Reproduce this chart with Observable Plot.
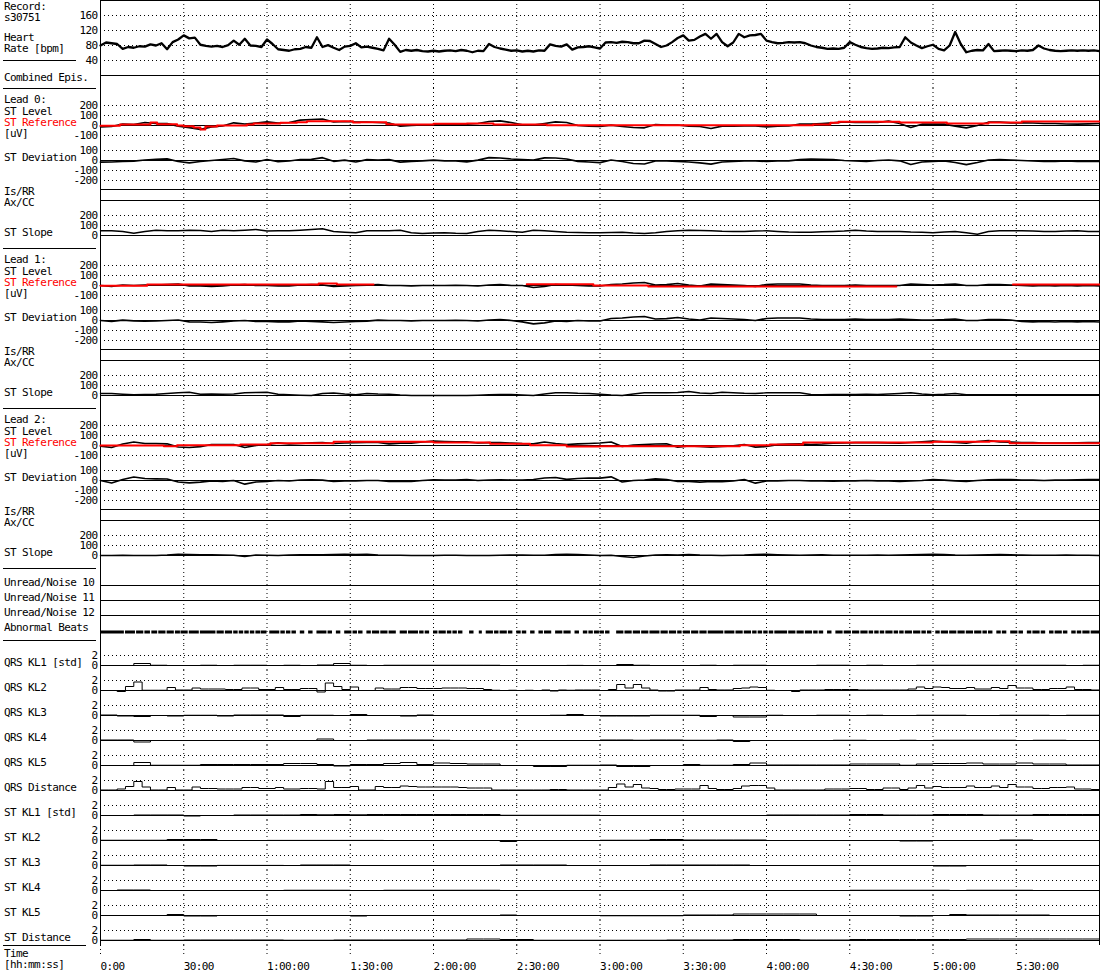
<!DOCTYPE html>
<html>
<head>
<meta charset="utf-8">
<script src="https://cdn.jsdelivr.net/npm/d3@7"></script>
<script src="https://cdn.jsdelivr.net/npm/@observablehq/plot@0.6"></script>
<style>
  body { margin: 0; background: white; }
  #chart { position: relative; width: 1100px; height: 970px; background: white;
           font-family: "DejaVu Sans Mono", monospace; font-size: 11px; letter-spacing: -0.6px; }
  .lbl { position: absolute; left: 4px; height: 11px; line-height: 11px; white-space: pre; }
  .sep { position: absolute; left: 3px; height: 0; border-top: 1px solid black; }
</style>
</head>
<body>
<div id="chart"></div>
<script>
// time axis (minutes from start of record)
const timeTicks = [0, 30, 60, 90, 120, 150, 180, 210, 240, 270, 300, 330];
const timeLabels = ["0:00", "30:00", "1:00:00", "1:30:00", "2:00:00", "2:30:00",
  "3:00:00", "3:30:00", "4:00:00", "4:30:00", "5:00:00", "5:30:00"];

const hrTicks = [160, 120, 80, 40];
const levelTicks = [200, 100, 0, -100];
const devTicks = [100, 0, -100, -200];
const slopeTicks = [200, 100, 0];
const klTicks = [2, 0];

// heart rate, one value every 2 minutes
const heartRate = [
  80, 88, 86, 84, 71, 76, 74, 78, 77, 83,
  80, 86, 70, 89, 96, 107, 99, 101, 82, 79,
  77, 79, 76, 81, 93, 82, 98, 80, 79, 76,
  96, 84, 70, 68, 66, 70, 71, 76, 74, 102,
  76, 81, 74, 68, 77, 79, 86, 75, 77, 74,
  71, 67, 98, 82, 63, 68, 66, 68, 65, 64,
  66, 64, 66, 67, 65, 68, 66, 62, 66, 65,
  84, 76, 72, 69, 66, 67, 64, 66, 64, 67,
  66, 83, 79, 77, 83, 69, 75, 76, 78, 75,
  72, 88, 89, 87, 90, 89, 86, 86, 93, 92,
  84, 76, 80, 89, 100, 107, 93, 95, 104, 111,
  98, 111, 89, 78, 88, 111, 102, 107, 108, 111,
  93, 89, 86, 87, 89, 88, 89, 86, 80, 76,
  74, 71, 72, 71, 74, 89, 82, 76, 73, 71,
  72, 74, 73, 75, 76, 102, 88, 80, 73, 78,
  82, 71, 67, 80, 116, 84, 62, 66, 68, 67,
  84, 65, 66, 67, 66, 65, 67, 66, 68, 80,
  72, 68, 66, 65, 66, 67, 66, 67, 66, 67,
  65];

// ST values [uV], one value every 4 minutes
const lead0Level = [
  -13, -10, 13, 10, 30, 20, 18, -7, -22, -38, -15, -5, 27, 15, 25, 37, 25, 30, 53, 60,
  65, 35, 40, 35, 35, 30, 25, -7, 0, 5, 7, 13, 13, 13, 20, 40, 47, 30, 7, 3,
  20, 37, 30, 0, -7, -8,
  3, -10, -20, -23, 10, 3, 5, -7, -10, -30, -7, -7, -5, -3, -13, -7, -5, 13, 13, 20,
  27, 37, 30, 33, 30, 43, 20, -20, 13, 13, 13, -7, -23, 0, 33, 33, 27, 27, 25, 20,
  20, 15, 13, 17, 20];
const lead0RefTime = [0, 7, 18, 20.4, 27.6, 30, 33.6, 36, 37.8, 42, 52.8, 55.2, 64.8, 70.8, 74.4,
  91, 93.6, 103, 105.6, 120, 132, 141.6, 160.8, 256.8, 263, 266, 288, 305, 320, 332, 360];
const lead0Ref = [-3, 10, 30, 13, 0, -7, -20, -40, -10, 0, 10, 20, 27, 33, 43,
  30, 33, 13, 10, 17, 20, 10, 3, 10, 27, 37, 30, 20, 30, 40, 40];
const lead0Dev = [
  -17, -15, -10, -7, 5, 12, 17, -10, -23, -10, 0, 10, 20, -3, -15, 10, -12, -5, 10, 12,
  28, -8, 3, -15, 8, 3, 8, -17, -8, -3, 3, -3, -5, -13, 3, 28, 25, 15, 8, 3,
  27, 25, 15, -8, -15, -22,
  5, -10, -30, -35, -5, -3, -8, -15, -23, -37, -15, -10, -5, -3, -10, -5, -3, 8, 15, 12,
  10, 0, -5, -10, 0, 5, -3, -40, -15, -8, -3, -20, -42, -20, 5, 10, 5, 0, -5, -10,
  -8, -3, -8, -10, -10];
const lead0Slope = [
  47, 47, 40, 22, 40, 53, 48, 47, 53, 50, 40, 53, 47, 53, 60, 45, 47, 47, 53, 60,
  67, 40, 33, 27, 47, 47, 47, 53, 27, 20, 25, 27, 22, 20, 40, 53, 47, 40, 33, 53,
  47, 40, 33, 30, 27, 27,
  30, 33, 25, 20, 27, 40, 47, 53, 50, 47, 42, 40, 40, 45, 47, 40, 35, 33, 33, 37,
  40, 45, 53, 45, 40, 40, 40, 35, 33, 27, 35, 40, 27, 13, 40, 47, 47, 47, 45, 40,
  40, 45, 47, 40, 40];

const lead1Level = [
  0, -8, 5, 0, 3, 5, 10, 15, -3, -5, -10, -3, 5, 10, 0, 0, -3, -3, 5, 10,
  7, -10, -5, 0, 3, 8, 0, 0, -3, 0, 0, 0, 2, 0, -5, 5, 10, 0, 0, -20,
  -10, 10, 5, 0, -5, -5,
  10, 15, 25, 30, 5, 8, 20, 5, -5, 15, 10, 5, 0, -10, 10, 15, 15, 15, 5, 0,
  0, 0, 3, 0, 0, 0, 0, 15, 10, 5, 8, 15, 0, 0, 10, 10, 5, 0, -3, 0,
  -5, 0, -3, 0, -5];
const lead1RefTime = [0, 16.8, 78.6, 85.2, 98.4, 98.4, 153.6, 177.6, 197.4, 286.8, 286.8, 328.8, 360];
const lead1Ref = [-3, 10, 20, 10, 10, NaN, 13, 0, -10, -10, NaN, 10, 10];
const lead1Dev = [
  0, -8, 3, -3, -7, -5, 0, 5, -13, -15, -20, -13, -5, 0, -10, -10, -13, -13, -5, -10,
  -13, -20, -15, -10, -7, 3, 0, 0, -3, 0, 0, 0, 2, 0, -5, 5, 10, 0, -13, -33,
  -23, -3, -8, 0, -5, -5,
  20, 25, 35, 40, 15, 18, 30, 15, 5, 25, 20, 15, 10, 0, 20, 25, 25, 25, 15, 10,
  10, 10, 13, 10, 10, 10, 15, 10, 5, 5, 8, 15, 0, 0, 10, 10, 5, -10, -13, -10,
  -15, -10, -13, -10, -15];
const lead1Slope = [
  20, 20, 13, 8, 10, 13, 20, 28, 33, 12, 15, 13, 15, 27, 30, 33, 12, 8, 3, 0,
  20, 25, 15, 8, 20, 15, 13, 5, 0, 0, 0, 0, 0, 0, 3, 8, 10, 10, 5, 0,
  15, 27, 27, 22, 20, 13,
  5, 0, 15, 27, 27, 27, 30, 40, 25, 20, 33, 27, 22, 20, 27, 27, 27, 27, 10, 8,
  10, 10, 10, 12, 10, 15, 20, 27, 15, 7, 12, 20, 7, 7, 7, 8, 7, 7, 7, 7,
  7, 7, 8, 7, 7];

const lead2Level = [
  -7, -20, 15, 35, 20, 20, 17, -15, -20, -12, 10, 8, 10, -20, 0, 10, 27, 15, 20, 27,
  30, 20, 25, 28, 30, 30, 17, 23, 23, 35, 43, 40, 37, 37, 25, 28, 30, 23, 18, 17,
  35, 20, 10, 17, 20, 25,
  35, -10, 5, 10, 15, 17, -17, -5, -10, -17, -10, -3, 10, -17, -10, 8, 15, 17, 10, 15,
  23, 25, 28, 30, 28, 27, 23, 30, 37, 43, 37, 30, 23, 40, 50, 37, 33, 30, 28, 25,
  23, 25, 27, 28, 30];
const lead2RefTime = [0, 22.8, 27.6, 50.4, 61.2, 84, 120, 140.4, 154.8, 168, 180,
  230.4, 241.2, 253.2, 300, 320.4, 327.6, 360];
const lead2Ref = [0, -7, 3, 10, 23, 37, 30, 17, 3, -10, -7, 3, 10, 30, 37, 43, 23, 23];
const lead2Dev = [
  0, -25, 10, 35, 20, 17, 15, -15, -23, -17, -5, -8, 0, -37, -15, -10, 0, -5, 5, 7,
  3, -10, -5, -3, 0, 0, -10, -10, -10, 0, 7, 5, 5, 10, 0, 5, 7, 5, 3, 10,
  25, 30, 12, 20, 25, 23,
  37, -15, 0, 5, 17, 10, -10, -8, -17, -10, -12, -5, 10, -27, -5, -3, 0, 0, -5, -3,
  -7, -5, -3, 0, -3, -3, -10, -5, 0, 10, 3, -3, -8, 0, 7, 10, 8, 5, 3, 0,
  3, 5, 7, 8, 10];
const lead2Slope = [
  0, 0, 3, 0, 0, 0, 5, 13, 10, 8, 8, 5, 3, -10, 5, 3, 0, 5, 8, 8,
  8, 10, 13, 10, 13, 5, 3, 2, 0, 0, 0, 2, 2, 0, 0, 0, 3, 5, 5, 3,
  3, 10, 13, 10, 5, 0,
  3, -10, -20, -5, 5, 8, 5, 10, 5, 3, 0, 3, 5, 10, 13, 8, 5, 3, 5, 8,
  3, 3, 3, 3, 5, 3, 5, 8, 10, 13, 10, 5, 3, 5, 8, 10, 8, 5, 3, 3,
  3, 5, 3, 3, 0];

// abnormal beat runs [min]
const beatStart = [0, 9, 13, 16, 18.5, 21, 24, 27, 29, 32, 36, 42, 45, 48, 50, 52, 54, 56, 58, 61,
  65, 67, 69, 72, 75, 78, 82, 85, 88, 91, 93, 96, 98, 101, 104, 108, 111, 115, 117, 120,
  122, 125, 127, 129, 133, 136.5, 139, 142, 144, 147, 150, 152, 155, 158, 160, 164, 167, 171, 174, 176,
  178, 180, 182, 186, 189, 192, 195, 198, 202, 205, 208, 210, 213, 216, 219, 225, 229, 232, 235, 237,
  239, 241, 243, 248, 251, 254, 257, 259, 262, 265, 268, 271, 274, 277, 279, 281, 283, 286, 288, 290,
  293, 296, 298, 301, 303, 306, 309, 312, 315, 318, 320, 323, 325, 328, 331, 334, 336, 339, 342, 344,
  347, 350, 352, 354, 357];
const beatEnd = [8.6, 12.6, 15.6, 18, 20.6, 23.6, 26.6, 28.8, 31.6, 35.6, 41.6, 44.6, 47.6, 49.6, 51.6, 53.6, 55.6, 57.8, 60, 64.6,
  66.6, 68.6, 70.6, 73.6, 76.6, 81.6, 83.6, 86.6, 90.6, 92.6, 94.6, 97.6, 100.6, 103.6, 106.6, 110.6, 114.6, 116.6, 118.6, 121.6,
  124.6, 126.6, 128.6, 130.6, 134.6, 137.6, 141.6, 143.6, 146.6, 148.6, 151.6, 153.6, 156.6, 159.6, 162.6, 166.6, 169.6, 172.6, 175.6, 177.6,
  179.8, 181.6, 183.6, 188.6, 191.6, 194.6, 197.6, 201.6, 204.6, 207.6, 209.6, 212.6, 215.6, 218.6, 224.6, 228.6, 231.6, 234.6, 236.6, 238.6,
  240.6, 242.6, 247.6, 250.6, 253.6, 256.6, 258.6, 260.6, 263.6, 267.6, 270.6, 273.6, 276.6, 278.6, 280.6, 282.6, 285.6, 287.6, 289.6, 292.6,
  295.6, 297.6, 299.6, 302.6, 305.6, 308.6, 311.6, 314.6, 317.6, 319.6, 321.6, 324.6, 326.6, 330.6, 332.6, 335.6, 338.6, 340.6, 343.6, 346.6,
  348.6, 351.6, 353.6, 356.6, 360];

// KL coefficients [std]; 121 values = every 3 min, 61 values = every 6 min
const qrsKl1 = [0, 0, 0.4, 0.05, 0, 0, 0.05, 0, 0.05, 0.05, 0, 0.05, 0, 0.1, 0.4, 0.05, 0, 0.05, 0.05, 0.05,
  0.05, 0.05, 0.05, 0.05, 0, 0, 0, 0, 0.02, 0, 0, 0.2, 0.05, 0, 0, 0, 0.05, 0, 0.05, 0.05,
  0, 0, 0, 0.05, 0.05, 0, 0.05, 0, 0, 0.05, 0.05, 0.05, 0.05, 0.05, 0.05, 0.05, 0.05, 0.05, 0, 0.05, 0];
const qrsKl2 = [0, 0, -0.2, 0.8, 1.7, 0.05, 0.05, 0.05, 0.6, 0.1, 0.1, 0.5, 0.3, 0.3, 0.3, 0.2, 0.2, 0.5, 0.5, 0.2,
  0.2, 0.6, 0.2, 0.2, 0.4, 0.4, -0.3, 1.5, 0.8, 0.2, 0.7, 0, 0, 0.5, 0.3, 0.3, 0.6, 0.6, 0.4, 0.4,
  0.4, 0.5, 0.5, 0.5, 0.4, 0.4, 0.2, 0.05, 0, 0.05, 0, 0.05, 0, 0.1, -0.1, 0.1, 0.05, 0.1, 0.1, 0.1, 0,
  0.2, 1.2, 0.5, 1.2, 0.5, 0.1, -0.1, -0.1, 0.1, 0.1, 0.1, 0.6, 0.2, 0.1, 0.1, 0.4, 0.5, 0.7, 0.6, 0.05,
  0, 0, -0.2, 0.1, 0.1, 0.1, 0.2, 0.2, 0.2, 0.2, 0.1, 0.1, 0.1, 0.1, 0.1, 0.1, 0.3, 0.7, 0.4, 0.7,
  0.6, 0.4, 0.4, 0.6, 0.3, 0.3, 0.6, 0.4, 1.0, 0.5, 0.5, 0.2, 0.2, 0.4, 0.4, 0.7, 0.2, 0.2, 0.1, 0.1];
const qrsKl3 = [0.1, -0.1, -0.2, 0, -0.1, 0.05, 0.05, -0.1, 0.1, 0.1, 0.1, -0.2, 0.05, 0.05, 0, 0.2, 0, 0, -0.1, 0.1,
  0, 0, 0, 0, 0, 0, 0, 0.05, 0.2, 0, -0.1, -0.1, -0.1, 0.05, 0.05, 0.05, -0.2, 0, -0.3, -0.3,
  0.05, 0, 0, 0.05, 0.05, 0, 0.05, 0, 0, 0.05, 0.05, 0.05, 0, 0, 0.05, 0.05, 0.05, 0, 0.05, 0.05, 0];
const qrsKl4 = [0.1, 0.1, -0.3, 0, 0, 0, 0, 0, 0, 0, 0, 0, 0, 0.3, 0, 0, 0.1, 0.1, 0.1, 0.1,
  0.05, 0, 0, 0, 0, 0, 0, 0, 0, 0, 0.1, 0.1, 0.05, 0.1, 0.1, 0.05, 0.05, 0.1, -0.2, 0,
  0, 0, 0, 0, 0.05, 0.05, 0, 0, 0.05, 0, 0.05, 0.05, 0.05, 0.05, 0.05, 0, 0.05, 0.05, 0, 0, 0];
const qrsKl5 = [0, 0, 0.6, 0.05, 0.05, 0.05, 0.2, 0.2, 0.2, 0.2, 0.2, 0.4, 0.4, 0.2, -0.1, 0.2, 0.2, 0.4, 0.6, 0.2,
  0.5, 0.4, 0.3, 0.3, 0, 0, -0.2, -0.2, 0.05, 0.05, 0.1, -0.2, -0.2, 0, 0, 0.2, 0.05, 0.05, 0.2, 0.5,
  0.1, 0.1, 0.1, 0.1, 0.1, 0.3, 0.3, 0.3, 0.05, 0.3, 0.4, 0.4, 0.5, 0.3, 0.3, 0.5, 0.3, 0.3, 0.1, 0.1, 0.1];
const qrsDistance = [0.1, 0.1, 0.3, 0.8, 1.8, 0.7, 0.1, 0.1, 0.6, 0.1, 0.1, 0.7, 0.4, 0.4, 0.3, 0.3, 0.3, 0.6, 0.6, 0.4,
  0.4, 0.6, 0.3, 0.3, 0.4, 0.4, 0.3, 1.8, 0.6, 0.6, 0.8, 0.1, 0.1, 0.8, 0.6, 0.6, 0.9, 0.8, 0.7, 0.7,
  0.7, 0.7, 0.7, 0.6, 0.5, 0.5, 0.5, 0.1, 0.1, 0.1, 0.1, 0.1, 0.1, 0.1, 0.2, 0.2, 0.1, 0.1, 0.1, 0.1, 0.1,
  0.6, 1.3, 0.7, 1.2, 0.5, 0.4, 0.2, 0.2, 0.3, 0.3, 0.3, 1.0, 0.4, 0.2, 0.2, 0.4, 0.9, 1.0, 1.0, 0.5,
  0.1, 0.1, 0.1, 0.1, 0.1, 0.1, 0.3, 0.3, 0.3, 0.4, 0.4, 0.2, 0.2, 0.5, 0.5, 0.2, 0.5, 1.0, 0.5, 0.8,
  0.6, 0.6, 0.6, 0.9, 0.6, 0.6, 0.9, 0.6, 1.2, 0.7, 0.7, 0.4, 0.4, 0.6, 0.6, 0.7, 0.3, 0.3, 0.2, 0.2];
const stKl1 = [0, 0, 0.1, 0.1, 0.1, -0.1, 0, 0, 0.1, 0.1, 0.1, 0.1, 0.2, 0.15, 0.2, 0.15, 0.2, 0.2, 0.2, 0.2,
  0.2, 0.2, 0.2, 0.2, 0.05, 0.05, 0.05, 0.05, 0.05, 0.05, 0, 0, 0, 0, 0, 0, 0, 0, 0, 0,
  0.1, 0.1, 0.1, 0.1, 0.1, 0.2, 0.2, 0.1, 0.1, 0.1, 0.2, 0.2, 0.2, 0.1, 0.1, 0.1, 0.2, 0.2, 0.2, 0.2, 0.2];
const stKl2 = [0.05, 0.05, 0.05, 0.05, 0.2, 0.2, 0.2, 0, 0, 0, 0.02, 0.02, 0.02, 0.02, 0.02, 0.02, 0.02, 0, 0, 0,
  0, 0, 0, 0, -0.2, 0, 0, 0, 0, 0, 0.05, 0.05, 0.05, 0.2, 0.2, 0.1, 0.1, 0.1, 0.1, 0.1,
  0, 0, 0, 0, 0, 0, 0, 0, -0.1, -0.1, 0, 0, 0, 0, 0.1, 0.1, 0, 0, 0, 0, 0];
const stKl3 = [0.05, 0.05, 0.1, 0.1, 0, -0.1, -0.1, 0.02, 0.02, 0.02, 0.02, 0, 0.1, 0.1, 0.1, 0, 0, 0, 0, 0,
  0, 0, 0, 0, 0.1, 0.1, 0.1, 0.1, 0, 0, 0, 0, 0, 0.1, 0.1, 0.1, 0.1, 0.1, 0.1, 0,
  0, 0, 0, 0, 0, 0, 0, 0, 0, 0, -0.1, -0.1, 0, 0, 0, 0, 0, 0, 0, 0, 0];
const stKl4 = [0, 0.1, 0.1, 0, 0, 0, 0, 0, 0, 0, 0, 0.05, 0.05, 0.05, 0.05, 0, 0, 0.05, 0.05, 0.05,
  0.05, 0.05, 0.05, 0.05, 0, 0, 0, 0, 0, 0, 0, 0, 0, 0, 0, 0, 0, 0, 0, 0,
  0, 0, 0, 0, 0, 0.05, 0.05, 0.05, 0.05, 0.05, 0.05, 0, 0.05, 0.05, 0.05, 0.05, 0, 0, 0, 0, 0];
const stKl5 = [0, 0, 0, 0, 0.2, -0.1, -0.1, 0, 0, 0, 0, 0, 0, 0, 0, -0.1, 0, 0, 0, 0,
  0, 0, 0, 0, 0.1, 0, 0, 0, 0, 0, -0.05, -0.05, -0.05, -0.05, -0.05, 0.1, 0.1, 0.1, 0.3, 0.3,
  0.3, 0.3, 0.3, 0, 0, 0, 0, 0, -0.1, -0.1, 0, 0.2, 0.1, 0.1, 0.1, 0.1, 0.1, 0, 0, 0, 0];
const stDistance = [0.05, 0.05, 0.2, 0.05, 0.05, 0.1, 0.1, 0.1, 0.1, 0.1, 0.1, 0.05, 0.05, 0.05, 0.1, 0.1, 0.1, 0.1, 0.1, 0.1,
  0.1, 0.1, 0.3, 0.3, 0.2, 0.2, 0.05, 0.05, 0.05, 0.05, 0.05, 0.05, 0.05, 0.05, 0.1, 0.1, 0.1, 0.1, 0.2, 0.2,
  0.2, 0.2, 0.1, 0.1, 0.1, 0.2, 0.2, 0.2, 0.2, 0.2, 0.2, 0.2, 0.3, 0.3, 0.3, 0.3, 0.3, 0.3, 0.3, 0.3, 0.3];

const hrTime = d3.range(0, 361, 2);
const stTime = d3.range(0, 361, 4);
const klTime3 = d3.range(0, 361, 3);
const klTime6 = d3.range(0, 361, 6);

const leads = [
  {name: "Lead 0:", level: lead0Level, refTime: lead0RefTime, ref: lead0Ref, dev: lead0Dev, slope: lead0Slope},
  {name: "Lead 1:", level: lead1Level, refTime: lead1RefTime, ref: lead1Ref, dev: lead1Dev, slope: lead1Slope},
  {name: "Lead 2:", level: lead2Level, refTime: lead2RefTime, ref: lead2Ref, dev: lead2Dev, slope: lead2Slope}
];
const klRows = [
  ["QRS KL1 [std]", qrsKl1], ["QRS KL2", qrsKl2], ["QRS KL3", qrsKl3], ["QRS KL4", qrsKl4],
  ["QRS KL5", qrsKl5], ["QRS Distance", qrsDistance], ["ST KL1 [std]", stKl1], ["ST KL2", stKl2],
  ["ST KL3", stKl3], ["ST KL4", stKl4], ["ST KL5", stKl5], ["ST Distance", stDistance]
];

const chart = d3.select('#chart');
const font = {fontFamily: '"DejaVu Sans Mono", monospace', fontSize: "11px", letterSpacing: "-0.6px"};
const dotted = {stroke: "black", strokeDasharray: "1,3"};

// one horizontal strip of the display, stacked at a fixed pixel offset
function panel(top, height, y, marks, grid = timeTicks.slice(1), border = true) {
  const all = grid ? [Plot.ruleX(grid, dotted)] : [];
  if (border) all.push(Plot.ruleX([0, 360], {stroke: "black"}));
  const p = Plot.plot({
    width: 1100, height,
    marginLeft: 100, marginRight: 1, marginTop: 0, marginBottom: 0,
    x: {domain: [0, 360], axis: null},
    y,
    marks: all.concat(marks),
    style: {...font, position: "absolute", top: top + "px", left: "0px",
            background: "transparent", overflow: "visible", color: "black"}
  });
  chart.append(() => p);
}
const axis = (domain, ticks) => ({domain, ticks, tickSize: 0, tickPadding: 3, label: null, tickFormat: d => String(d)});
const gridLines = ticks => Plot.ruleY(ticks.filter(d => d !== 0), dotted);

// heart rate
panel(0, 75, axis([0, 200], hrTicks), [
  gridLines(hrTicks),
  Plot.ruleY([0, 200], {stroke: "black"}),
  Plot.lineY(heartRate, {x: hrTime, stroke: "black", strokeWidth: 2.3})
]);
// combined episodes (empty)
panel(75, 13, {domain: [0, 1], axis: null}, []);

leads.forEach((lead, k) => {
  const b = 125 + 160 * k;
  panel(b - 37, 52, axis([-150, 370], levelTicks), [
    gridLines(levelTicks),
    Plot.ruleY([0], {stroke: "black"}),
    Plot.lineY(lead.level, {x: stTime, stroke: "black", strokeWidth: 1.7}),
    Plot.lineY(lead.ref, {x: lead.refTime, curve: "step-after", stroke: "#ff0000", strokeWidth: 2})
  ]);
  panel(b + 15, 49, axis([-290, 200], devTicks), [
    gridLines(devTicks),
    Plot.ruleY([0], {stroke: "black"}),
    Plot.lineY(lead.dev, {x: stTime, stroke: "black", strokeWidth: 1.7})
  ]);
  panel(b + 64, 11, {domain: [0, 1], axis: null}, [Plot.ruleY([1], {stroke: "black"})]);
  panel(b + 75, 48, axis([-130, 350], slopeTicks), [
    gridLines(slopeTicks),
    Plot.ruleY([0, 350], {stroke: "black"}),
    Plot.lineY(lead.slope, {x: stTime, stroke: "black", strokeWidth: 1.4})
  ]);
});

// unread / noise rows
panel(568, 17, {domain: [0, 1], axis: null}, [Plot.ruleY([0], {stroke: "black"})]);
panel(585, 15, {domain: [0, 1], axis: null}, [Plot.ruleY([0], {stroke: "black"})]);
panel(600, 15, {domain: [0, 1], axis: null}, [Plot.ruleY([0], {stroke: "black"})]);
// abnormal beats
panel(615, 30, {domain: [0, 1], axis: null}, [
  Plot.rect(beatStart, {x1: d => d, x2: (d, i) => beatEnd[i], fill: "black", insetTop: 15.5, insetBottom: 11.5})
]);

// KL rows
klRows.forEach(([name, values], i) => {
  const t = values.length === 121 ? klTime3 : klTime6;
  panel(645 + 25 * i, 25, axis([-1, 4], klTicks), [
    gridLines(klTicks),
    Plot.ruleY([0], {stroke: "black"}),
    Plot.lineY(values, {x: t, curve: "step-after", stroke: "black", strokeWidth: 1})
  ]);
});

// time axis: short dotted tick lines, then the labels below them
panel(945, 10, {domain: [0, 1], axis: null}, [], timeTicks, false);
panel(955, 15, {domain: [0, 1], axis: null}, [
  Plot.text(timeTicks, {x: d => d, text: (d, i) => timeLabels[i], frameAnchor: "top",
    textAnchor: "start", dy: 7, fill: "black"})
], null, false);

// left-hand labels
const labels = [
  ["Record:", 6.5], ["s30751", 17.5], ["Heart", 37], ["Rate [bpm]", 48], ["Combined Epis.", 77]
];
leads.forEach((lead, k) => {
  const o = 160 * k;
  labels.push([lead.name, 99 + o], ["ST Level", 111 + o], ["ST Reference", 122.5 + o, "#ff0000"],
    ["[uV]", 133.5 + o], ["ST Deviation", 157 + o], ["Is/RR", 191 + o], ["Ax/CC", 202 + o],
    ["ST Slope", 232 + o]);
});
labels.push(["Unread/Noise 10", 582], ["Unread/Noise 11", 597], ["Unread/Noise 12", 612],
  ["Abnormal Beats", 627]);
klRows.forEach(([name], i) => labels.push([name, 662 + 25 * i]));
labels.push(["Time", 953.5], ["[hh:mm:ss]", 964.5]);

labels.forEach(([text, cy, color]) => {
  chart.append("div").attr("class", "lbl")
    .style("top", (cy - 5.5) + "px").style("color", color || "black").text(text);
});
[[60, 73], [88, 93], [248, 93], [408, 93], [568, 93], [640, 93], [945, 83]].forEach(([y, w]) => {
  chart.append("div").attr("class", "sep").style("top", y + "px").style("width", w + "px");
});
</script>
</body>
</html>
